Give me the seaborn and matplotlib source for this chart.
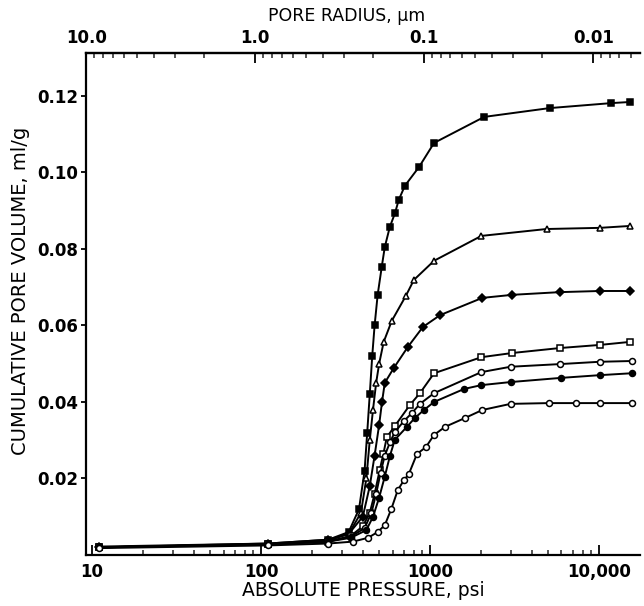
import numpy as np
import pandas as pd
import matplotlib
matplotlib.use("Agg")
import matplotlib.pyplot as plt
from matplotlib.ticker import FixedLocator, FixedFormatter, LogLocator, NullFormatter
import seaborn as sns

# Mercury intrusion curves: cumulative pore volume vs absolute pressure
p1 = [11, 110, 250, 330, 380, 410, 425, 440, 455, 470, 490, 518, 540, 578, 621, 653, 710, 861, 1057, 2094, 5100, 11800, 15300]
v1 = [0.0020, 0.0030, 0.0040, 0.0060, 0.0120, 0.0220, 0.0320, 0.0420, 0.0520, 0.0600, 0.0680, 0.0753, 0.0805, 0.0857, 0.0894, 0.0928, 0.0965, 0.1014, 0.1077, 0.1145, 0.1168, 0.1181, 0.1184]

p2 = [11, 110, 250, 330, 390, 420, 440, 460, 480, 500, 532, 594, 719, 803, 1057, 2014, 4900, 10100, 15300]
v2 = [0.0020, 0.0028, 0.0038, 0.0055, 0.0110, 0.0200, 0.0300, 0.0380, 0.0450, 0.0500, 0.0557, 0.0612, 0.0677, 0.0719, 0.0769, 0.0834, 0.0852, 0.0855, 0.0860]

p3 = [11, 110, 250, 330, 400, 440, 470, 500, 520, 540, 611, 740, 908, 1148, 2040, 3076, 5860, 10100, 15300]
v3 = [0.0022, 0.0030, 0.0040, 0.0055, 0.0100, 0.0180, 0.0260, 0.0340, 0.0400, 0.0450, 0.0489, 0.0544, 0.0596, 0.0627, 0.0672, 0.0680, 0.0687, 0.0690, 0.0690]

p4 = [11, 110, 250, 340, 400, 440, 470, 504, 530, 555, 619, 760, 872, 1057, 2014, 3076, 5900, 10100, 15300]
v4 = [0.0020, 0.0028, 0.0035, 0.0050, 0.0075, 0.0110, 0.0160, 0.0222, 0.0265, 0.0308, 0.0337, 0.0392, 0.0423, 0.0475, 0.0517, 0.0528, 0.0541, 0.0549, 0.0557]

p5 = [11, 110, 250, 340, 410, 450, 480, 510, 540, 580, 619, 700, 782, 872, 1057, 2014, 3000, 5900, 10100, 15600]
v5 = [0.0020, 0.0028, 0.0035, 0.0048, 0.0070, 0.0110, 0.0160, 0.0215, 0.0260, 0.0295, 0.0321, 0.0350, 0.0371, 0.0395, 0.0423, 0.0478, 0.0492, 0.0499, 0.0505, 0.0507]

p6 = [11, 110, 250, 340, 420, 460, 500, 540, 580, 619, 730, 813, 921, 1057, 1592, 2014, 3000, 6000, 10100, 15600]
v6 = [0.0020, 0.0028, 0.0035, 0.0045, 0.0065, 0.0100, 0.0150, 0.0205, 0.0260, 0.0301, 0.0335, 0.0358, 0.0379, 0.0400, 0.0434, 0.0444, 0.0452, 0.0463, 0.0470, 0.0475]

p7 = [11, 110, 250, 350, 430, 490, 540, 590, 645, 700, 750, 837, 946, 1057, 1229, 1610, 2040, 3000, 5030, 7300, 10100, 15600]
v7 = [0.0018, 0.0025, 0.0030, 0.0035, 0.0045, 0.0060, 0.0078, 0.0120, 0.0170, 0.0195, 0.0212, 0.0264, 0.0282, 0.0314, 0.0335, 0.0358, 0.0379, 0.0395, 0.0397, 0.0397, 0.0397, 0.0397]

bottom_ticks = [10, 100, 1000, 10000]
bottom_labels = ["10", "100", "1000", "10,000"]
y_ticks = [0.02, 0.04, 0.06, 0.08, 0.10, 0.12]
y_labels = ["0.02", "0.04", "0.06", "0.08", "0.10", "0.12"]
top_ticks = [10.0, 1.0, 0.1, 0.01]
top_labels = ["10.0", "1.0", "0.1", "0.01"]

series = [
    (p1, v1, "s", True),
    (p2, v2, "^", False),
    (p3, v3, "D", True),
    (p4, v4, "s", False),
    (p5, v5, "o", False),
    (p6, v6, "o", True),
    (p7, v7, "o", False),
]

sns.set_theme(style="ticks")
plt.rcParams["font.family"] = ["DejaVu Sans"]

fig = plt.figure(figsize=(6.44, 6.06), dpi=100)
ax = fig.add_axes([86 / 644, 1 - 555 / 606, 554 / 644, 502 / 606])

for p, v, mk, filled in series:
    df = pd.DataFrame({"pressure": p, "volume": v})
    sns.lineplot(data=df, x="pressure", y="volume", ax=ax, color="black",
                 linewidth=1.4, marker=mk, markersize=4.3 if mk != "D" else 3.8,
                 markerfacecolor="black" if filled else "white",
                 markeredgecolor="black", markeredgewidth=1.1,
                 errorbar=None, sort=False)

ax.set_xscale("log")
ax.set_xlim(9.2, 17500)
ax.set_ylim(0.0, 0.1312)

ax.xaxis.set_major_locator(FixedLocator(bottom_ticks))
ax.xaxis.set_major_formatter(FixedFormatter(bottom_labels))
ax.xaxis.set_minor_locator(LogLocator(base=10, subs=np.arange(2, 10)))
ax.xaxis.set_minor_formatter(NullFormatter())
ax.yaxis.set_major_locator(FixedLocator(y_ticks))
ax.yaxis.set_major_formatter(FixedFormatter(y_labels))

ax.tick_params(axis="x", which="major", direction="in", length=7.5, width=1.3,
               labelsize=12, pad=6, colors="black")
ax.tick_params(axis="x", which="minor", direction="in", length=3.8, width=1.1)
ax.tick_params(axis="y", which="major", direction="out", length=3.5, width=1.3,
               labelsize=12, pad=2, colors="black")
for lbl in ax.get_xticklabels() + ax.get_yticklabels():
    lbl.set_fontweight("bold")

for side in ("left", "bottom", "top"):
    ax.spines[side].set_linewidth(1.6)
    ax.spines[side].set_color("black")
ax.spines["right"].set_visible(False)

ax.set_xlabel("ABSOLUTE PRESSURE, psi", fontsize=13.5, labelpad=0, color="black")
ax.set_ylabel("CUMULATIVE PORE VOLUME, ml/g", fontsize=14, color="black")
ax.yaxis.set_label_coords(-0.101, 0.526)

# Pore radius scale from the Washburn relation r = k / P
k = 92.5
top = ax.secondary_xaxis("top", functions=(lambda x: k / x, lambda r: k / r))
top.xaxis.set_major_locator(FixedLocator(top_ticks))
top.xaxis.set_major_formatter(FixedFormatter(top_labels))
top.xaxis.set_minor_locator(LogLocator(base=10, subs=np.arange(2, 10)))
top.xaxis.set_minor_formatter(NullFormatter())
top.tick_params(axis="x", which="major", direction="in", length=7, width=1.3,
                labelsize=12, pad=4, colors="black")
top.tick_params(axis="x", which="minor", direction="in", length=3.5, width=1.1)
for lbl in top.get_xticklabels():
    lbl.set_fontweight("bold")
top.spines["top"].set_linewidth(1.6)
top.set_xlabel("PORE RADIUS, \u00b5m", fontsize=12.5, color="black")
top.xaxis.set_label_coords(347 / 644, 1 - 21 / 606, transform=fig.transFigure)

fig.savefig("out.png", dpi=100, facecolor="white")
